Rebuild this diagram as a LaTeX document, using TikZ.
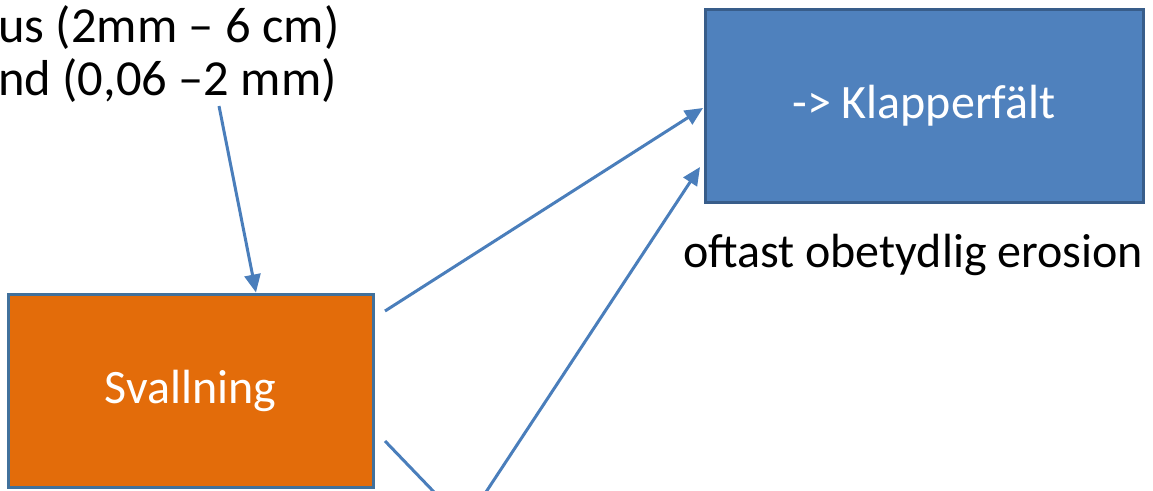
\documentclass[tikz,border=0pt]{standalone}
\usepackage{fontspec}
\setmainfont{Carlito}
\usetikzlibrary{arrows.meta}
\definecolor{lineblue}{HTML}{4A7EBB}
\definecolor{boxblue}{HTML}{4F81BD}
\definecolor{boxblueedge}{HTML}{385D8A}
\definecolor{boxorange}{HTML}{E36C0A}
\definecolor{orangeedge}{HTML}{41719C}
\tikzset{
  conn/.style={draw=lineblue, line width=3pt},
  arr/.style={conn, -{Triangle[length=18pt,width=16pt]}},
  box/.style={rectangle, line width=3pt, text=white, font=\fontsize{48}{58}\selectfont, inner sep=0pt},
  lbl/.style={font=\fontsize{48}{58}\selectfont, inner sep=0pt, text=black},
  toplbl/.style={font=\fontsize{50.5}{60}\selectfont, inner sep=0pt, text=black}
}
\begin{document}
\begin{tikzpicture}[x=1pt,y=-1pt]
\useasboundingbox (0,0) rectangle (1153,490);
\clip (0,0) rectangle (1153,490);
\node[box, fill=boxorange, draw=orangeedge, minimum width=365pt, minimum height=193pt] (sv) at (190.5,390.5) {Svallning};
\node[box, fill=boxblue, draw=boxblueedge, minimum width=438pt, minimum height=193pt] (kl) at (924,106) {-> Klapperfält};
\node[toplbl, anchor=west] (t1) at (-2,28) {us (2mm – 6 cm)};
\node[toplbl, anchor=west] (t2) at (-2,81) {nd (0,06 –2 mm)};
\node[lbl] (er) at (913,255) {oftast obetydlig erosion};
\coordinate (a1) at (219,106);
\coordinate (b1) at (385,311);
\coordinate (b2) at (703,108);
\coordinate (c1) at (385,441);
\coordinate (c2) at (434,492);
\coordinate (d1) at (486,492);
\coordinate (d2) at (700,167);
\draw[arr] (a1) -- (sv.north -| 256,0);
\draw[arr] (b1) -- (b2);
\draw[conn] (c1) -- (c2);
\draw[arr] (d1) -- (d2);
\end{tikzpicture}
\end{document}
